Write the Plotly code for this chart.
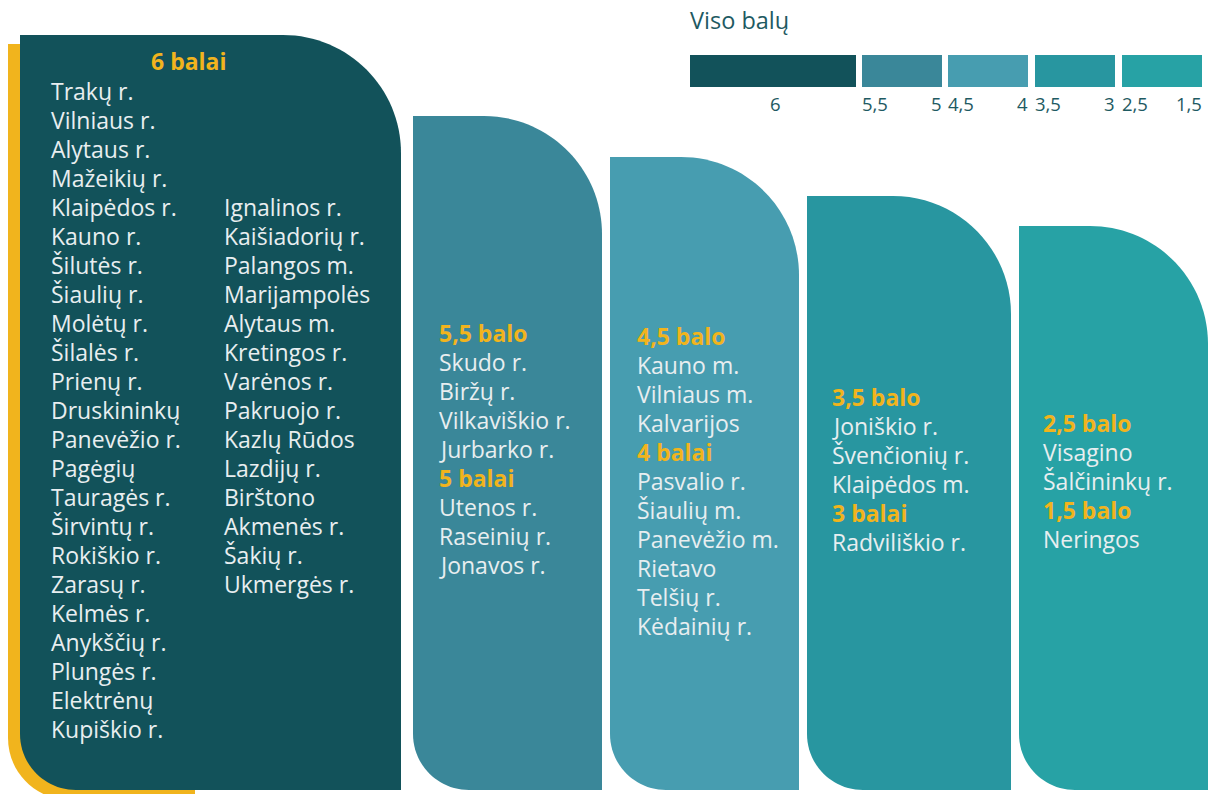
import plotly.graph_objects as go

# ---------------- data ----------------
score_labels = ["6 balai", "5,5 balo", "5 balai", "4,5 balo", "4 balai",
                "3,5 balo", "3 balai", "2,5 balo", "1,5 balo"]
score_values = [6, 5.5, 5, 4.5, 4, 3.5, 3, 2.5, 1.5]

muni_6 = ["Trakų r.", "Vilniaus r.", "Alytaus r.", "Mažeikių r.", "Klaipėdos r.",
          "Kauno r.", "Šilutės r.", "Šiaulių r.", "Molėtų r.", "Šilalės r.",
          "Prienų r.", "Druskininkų", "Panevėžio r.", "Pagėgių", "Tauragės r.",
          "Širvintų r.", "Rokiškio r.", "Zarasų r.", "Kelmės r.", "Anykščių r.",
          "Plungės r.", "Elektrėnų", "Kupiškio r.",
          "Ignalinos r.", "Kaišiadorių r.", "Palangos m.", "Marijampolės",
          "Alytaus m.", "Kretingos r.", "Varėnos r.", "Pakruojo r.", "Kazlų Rūdos",
          "Lazdijų r.", "Birštono", "Akmenės r.", "Šakių r.", "Ukmergės r."]
muni_5_5 = ["Skudo r.", "Biržų r.", "Vilkaviškio r.", "Jurbarko r."]
muni_5 = ["Utenos r.", "Raseinių r.", "Jonavos r."]
muni_4_5 = ["Kauno m.", "Vilniaus m.", "Kalvarijos"]
muni_4 = ["Pasvalio r.", "Šiaulių m.", "Panevėžio m.", "Rietavo", "Telšių r.", "Kėdainių r."]
muni_3_5 = ["Joniškio r.", "Švenčionių r.", "Klaipėdos m."]
muni_3 = ["Radviliškio r."]
muni_2_5 = ["Visagino", "Šalčininkų r."]
muni_1_5 = ["Neringos"]
municipalities = [muni_6, muni_5_5, muni_5, muni_4_5, muni_4,
                  muni_3_5, muni_3, muni_2_5, muni_1_5]

# which block (column) each score belongs to
score_block = [0, 1, 1, 2, 2, 3, 3, 4, 4]

legend_title = "Viso balų"
legend_ticks = ["6", "5,5", "5", "4,5", "4", "3,5", "3", "2,5", "1,5"]

# ---------------- styling / layout ----------------
W, H = 1211, 794
block_colors = ["#12525A", "#3A8799", "#479DB0", "#2896A0", "#27A2A5"]
yellow = "#F1B41D"
text_col = "#E8EEF0"
dark_text = "#1E5A62"
FONT = "Open Sans"
FS = 23
STEP = 29
DX = -2  # annotation padding compensation

blocks = [  # x0, x1, ytop
    (20, 401, 35),
    (413, 602, 116),
    (610, 799, 157),
    (807, 1011, 196),
    (1019, 1208, 226),
]
y_bottom = 790
block_text = [  # x, y of first line
    (51, 62),
    (439, 333),
    (637, 336),
    (832, 397),
    (1043, 423),
]

K = 0.5523


def block_path(x0, x1, y0, y1, rtr, rbl):
    p = f"M {x0},{y0} L {x1 - rtr},{y0} "
    p += f"C {x1 - rtr + K * rtr},{y0} {x1},{y0 + rtr - K * rtr} {x1},{y0 + rtr} "
    p += f"L {x1},{y1} L {x0 + rbl},{y1} "
    p += f"C {x0 + rbl - K * rbl},{y1} {x0},{y1 - rbl + K * rbl} {x0},{y1 - rbl} Z"
    return p


shapes = []
# yellow accent behind first block
shapes.append(dict(type="path", xref="x", yref="y",
                   path=block_path(8, 195, 44, 800, 0.01, 62),
                   fillcolor=yellow, line=dict(width=0), layer="below"))
for i, (x0, x1, yt) in enumerate(blocks):
    shapes.append(dict(type="path", xref="x", yref="y",
                       path=block_path(x0, x1, yt, y_bottom, 118, 56),
                       fillcolor=block_colors[i], line=dict(width=0), layer="below"))

annotations = []


def add_text(x, y, s, color, bold=False, anchor="left", size=FS):
    if anchor == "left":
        x = x + DX
    elif anchor == "right":
        x = x - DX
    annotations.append(dict(
        x=x, y=y, xref="x", yref="y", text=f"<b>{s}</b>" if bold else s,
        showarrow=False, xanchor=anchor, yanchor="middle",
        font=dict(family=FONT, size=size, color=color)))


# Block 1: two columns
x_b1, y_b1 = block_text[0]
add_text(189, y_b1 - 1, score_labels[0], yellow, bold=True, anchor="center")
col1 = municipalities[0][:23]
col2 = municipalities[0][23:]
for j, m in enumerate(col1):
    add_text(x_b1, y_b1 + STEP * (j + 1), m, text_col)
for j, m in enumerate(col2):
    add_text(224, y_b1 + STEP * (j + 5), m, text_col)

# Other blocks
line_idx = {b: 0 for b in range(1, 5)}
for si in range(1, len(score_labels)):
    b = score_block[si]
    bx, by = block_text[b]
    add_text(bx, by + STEP * line_idx[b], score_labels[si], yellow, bold=True)
    line_idx[b] += 1
    for m in municipalities[si]:
        add_text(bx, by + STEP * line_idx[b], m, text_col)
        line_idx[b] += 1

# Legend
add_text(690, 20, legend_title, dark_text, size=23.5)
leg_boxes = [(690, 856), (862, 942), (948, 1028), (1035, 1115), (1122, 1202)]
for i, (a, b) in enumerate(leg_boxes):
    shapes.append(dict(type="rect", xref="x", yref="y", x0=a, x1=b, y0=55, y1=87,
                       fillcolor=block_colors[i], line=dict(width=0)))
LY = 103
add_text(775, LY, legend_ticks[0], dark_text, anchor="center", size=18.5)
for i in range(1, 5):
    a, b = leg_boxes[i]
    add_text(a, LY, legend_ticks[2 * i - 1], dark_text, anchor="left", size=18.5)
    add_text(b, LY, legend_ticks[2 * i], dark_text, anchor="right", size=18.5)

fig = go.Figure()
fig.add_trace(go.Scatter(x=[0, W], y=[0, H], mode="markers",
                         marker=dict(opacity=0), hoverinfo="skip", showlegend=False))
fig.update_layout(
    width=W, height=H, margin=dict(l=0, r=0, t=0, b=0),
    paper_bgcolor="white", plot_bgcolor="white",
    xaxis=dict(range=[0, W], visible=False, fixedrange=True),
    yaxis=dict(range=[H, 0], visible=False, fixedrange=True),
    shapes=shapes, annotations=annotations, showlegend=False,
)
fig.write_html("out.html", config={"displayModeBar": False},
               post_script="document.body.style.margin='0';"
                           "document.body.style.overflow='hidden';")
